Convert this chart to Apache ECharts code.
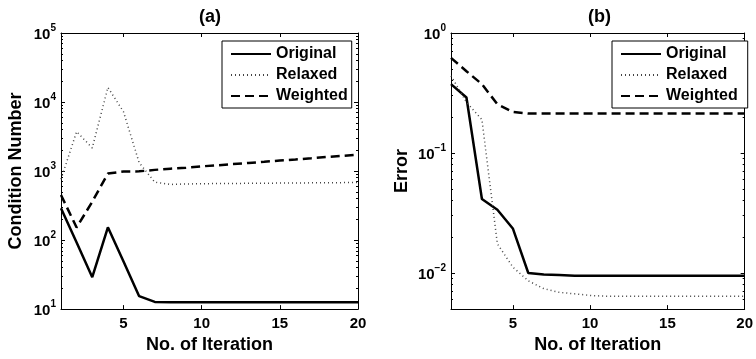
<!DOCTYPE html>
<html>
<head>
<meta charset="utf-8">
<script src="https://cdn.jsdelivr.net/npm/echarts@6/dist/echarts.min.js"></script>
<style>
  html, body { margin: 0; padding: 0; background: #fff; }
  #chart { width: 756px; height: 359px; }
</style>
</head>
<body>
<div id="chart"></div>
<script>
// iterations on the x axis (both panels)
const iterations = [1, 2, 3, 4, 5, 6, 7, 8, 9, 10, 11, 12, 13, 14, 15, 16, 17, 18, 19, 20];

// panel (a) - condition number
const condOriginal = [290, 92, 29, 153, 49, 15.4, 12.7, 12.6, 12.6, 12.6, 12.6, 12.6, 12.6, 12.6, 12.6, 12.6, 12.6, 12.6, 12.6, 12.6];
const condRelaxed = [760, 3730, 2160, 16300, 7200, 1320, 690, 640, 650, 655, 660, 660, 665, 665, 670, 670, 675, 675, 680, 680];
const condWeighted = [450, 152, 360, 920, 985, 990, 1040, 1080, 1120, 1170, 1210, 1260, 1310, 1360, 1420, 1470, 1530, 1600, 1660, 1730];

// panel (b) - error
const errOriginal = [0.375, 0.29, 0.0414, 0.0337, 0.0235, 0.0100, 0.0097, 0.0096, 0.0095, 0.0095, 0.0095, 0.0095, 0.0095, 0.0095, 0.0095, 0.0095, 0.0095, 0.0095, 0.0095, 0.0095];
const errRelaxed = [0.44, 0.265, 0.19, 0.0175, 0.0112, 0.0086, 0.0074, 0.0069, 0.0067, 0.0065, 0.0064, 0.0064, 0.0064, 0.0064, 0.0064, 0.0064, 0.0064, 0.0064, 0.0064, 0.0064];
const errWeighted = [0.62, 0.48, 0.375, 0.255, 0.22, 0.213, 0.213, 0.213, 0.213, 0.213, 0.213, 0.213, 0.213, 0.213, 0.213, 0.213, 0.213, 0.213, 0.213, 0.213];

// tick labels
const xTicks = [5, 10, 15, 20];
const condTicks = [10, 100, 1000, 10000, 100000];
const errTicks = [0.01, 0.1, 1];

const seriesNames = ['Original', 'Relaxed', 'Weighted'];

const FONT = 'Liberation Sans, Arial, sans-serif';

function minorTicks(lo, hi) {
    // 2..9 x 10^n between the decades
    const out = [];
    for (let d = lo; d < hi; d++) {
        for (let m = 2; m <= 9; m++) {
            out.push(m * Math.pow(10, d));
        }
    }
    return out;
}

function pairs(ys) {
    return ys.map((y, i) => [iterations[i], y]);
}

function powLabel(v) {
    const e = Math.round(Math.log10(v));
    return '{b|10}{s|' + (e < 0 ? '\u2212' + (-e) : e) + '}';
}

const lineStyles = [
    { color: '#000', width: 2.5, type: 'solid' },
    { color: '#444', width: 1.5, type: [1, 3] },
    { color: '#000', width: 2.5, type: [9, 5] }
];

function xAxes(grid) {
    return [
        {
            gridIndex: grid, type: 'value', min: 1, max: 20,
            axisLine: { onZero: false, lineStyle: { color: '#000', width: 1 } },
            axisTick: { inside: true, length: 4, customValues: xTicks, lineStyle: { color: '#000' } },
            axisLabel: { customValues: xTicks, color: '#000', fontSize: 15, fontWeight: 'bold', fontFamily: FONT, margin: 7 },
            splitLine: { show: false },
            name: 'No. of Iteration', nameLocation: 'middle', nameGap: 21,
            nameTextStyle: { color: '#000', fontSize: 18, fontWeight: 'bold', fontFamily: FONT }
        },
        {
            gridIndex: grid, type: 'value', min: 1, max: 20, position: 'top',
            axisLine: { onZero: false, lineStyle: { color: '#000', width: 1 } },
            axisTick: { inside: true, length: 4, customValues: xTicks, lineStyle: { color: '#000' } },
            axisLabel: { show: false },
            splitLine: { show: false }
        }
    ];
}

function yAxes(grid, min, max, ticks, minors, name, nameGap) {
    const base = { gridIndex: grid, type: 'log', logBase: 10, min: min, max: max, splitLine: { show: false } };
    return [
        Object.assign({}, base, {
            position: 'left',
            axisLine: { lineStyle: { color: '#000', width: 1 } },
            axisTick: { inside: true, length: 4, customValues: ticks, lineStyle: { color: '#000' } },
            axisLabel: {
                customValues: ticks, margin: 5, formatter: powLabel,
                rich: {
                    b: { color: '#000', fontSize: 15, fontWeight: 'bold', fontFamily: FONT, lineHeight: 19, verticalAlign: 'bottom' },
                    s: { color: '#000', fontSize: 10, fontWeight: 'bold', fontFamily: FONT, lineHeight: 10, verticalAlign: 'top' }
                }
            },
            name: name, nameLocation: 'middle', nameGap: nameGap, nameRotate: 90,
            nameTextStyle: { color: '#000', fontSize: 18, fontWeight: 'bold', fontFamily: FONT }
        }),
        Object.assign({}, base, {
            position: 'right',
            axisLine: { lineStyle: { color: '#000', width: 1 } },
            axisTick: { inside: true, length: 4, customValues: ticks, lineStyle: { color: '#000' } },
            axisLabel: { show: false }
        }),
        Object.assign({}, base, {
            position: 'left',
            axisLine: { show: false },
            axisTick: { inside: true, length: 2, customValues: minors, lineStyle: { color: '#000' } },
            axisLabel: { show: false }
        }),
        Object.assign({}, base, {
            position: 'right',
            axisLine: { show: false },
            axisTick: { inside: true, length: 2, customValues: minors, lineStyle: { color: '#000' } },
            axisLabel: { show: false }
        })
    ];
}

function makeSeries(name, idx, values, grid) {
    return {
        name: name, type: 'line', data: pairs(values),
        xAxisIndex: grid * 2, yAxisIndex: grid * 4,
        symbol: 'none', itemStyle: { color: '#000' },
        lineStyle: lineStyles[idx]
    };
}

function makeLegend(left, right) {
    return {
        data: seriesNames, orient: 'vertical', left: left, top: 41,
        padding: [5, right, 4, 8], itemGap: 5, itemWidth: 40, itemHeight: 14,
        backgroundColor: '#fff', borderColor: '#000', borderWidth: 1, borderRadius: 0,
        itemStyle: { opacity: 0 },
        textStyle: { color: '#000', fontSize: 16, fontWeight: 'bold', fontFamily: FONT },
        selectedMode: false
    };
}

const chart = echarts.init(document.getElementById('chart'));

const option = {
    animation: false,
    backgroundColor: '#fff',
    title: [
        { text: '(a)', left: 199, top: 8, padding: 0, textStyle: { color: '#000', fontSize: 18, fontWeight: 'bold', fontFamily: FONT } },
        { text: '(b)', left: 588, top: 8, padding: 0, textStyle: { color: '#000', fontSize: 18, fontWeight: 'bold', fontFamily: FONT } }
    ],
    grid: [
        { left: 61, right: 398, top: 33, bottom: 45, containLabel: false },
        { left: 451, right: 8, top: 33, bottom: 45, containLabel: false }
    ],
    legend: [makeLegend(222, 4), makeLegend(612, 10)],
    xAxis: xAxes(0).concat(xAxes(1)),
    yAxis: yAxes(0, 10, 100000, condTicks, minorTicks(1, 5), 'Condition Number', 36)
        .concat(yAxes(1, 0.005, 1, errTicks, minorTicks(-3, 0).filter(v => v > 0.005), 'Error', 40)),
    series: [
        makeSeries('Original', 0, condOriginal, 0),
        makeSeries('Relaxed', 1, condRelaxed, 0),
        makeSeries('Weighted', 2, condWeighted, 0),
        makeSeries('Original', 0, errOriginal, 1),
        makeSeries('Relaxed', 1, errRelaxed, 1),
        makeSeries('Weighted', 2, errWeighted, 1)
    ]
};

chart.setOption(option);
</script>
</body>
</html>
